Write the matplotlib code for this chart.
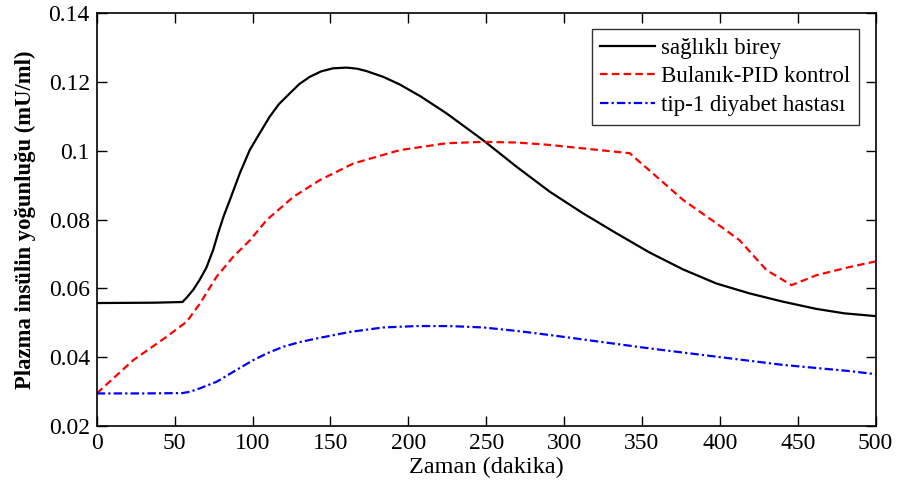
import numpy as np
import matplotlib
matplotlib.use("Agg")
import matplotlib.pyplot as plt

plt.rcParams['font.family'] = ['Liberation Serif', 'DejaVu Serif']

# Healthy subject
t_healthy = [0, 37, 55, 58, 62, 66, 70.4, 74.7, 77.9, 81.5, 85.4, 91.8, 98.2, 104.6,
             111, 117, 123.9, 130, 136.7, 144, 151.7, 160.3, 167, 173.1, 184, 194.5,
             208, 224.5, 248, 269.4, 290.8, 312.2, 333.6, 354.9, 376.3, 397.7, 419.1,
             440.5, 461.9, 480, 500]
y_healthy = [0.0557, 0.0558, 0.0560, 0.0574, 0.0596, 0.0624, 0.0660, 0.0711, 0.0760,
             0.0810, 0.0856, 0.0934, 0.1002, 0.1051, 0.1099, 0.1136, 0.1167, 0.1194,
             0.1215, 0.1231, 0.1240, 0.1242, 0.1239, 0.1232, 0.1215, 0.1193, 0.1158,
             0.1109, 0.1031, 0.0954, 0.0881, 0.0818, 0.0760, 0.0704, 0.0655, 0.0614,
             0.0585, 0.0561, 0.0540, 0.0527, 0.0519]

# Fuzzy-PID control
t_pid = [0, 23.5, 44.9, 57.8, 66.3, 77, 87.7, 98.4, 109, 126.2, 143.3, 164.7, 194.6,
         224.6, 248, 270, 290.8, 312.2, 342.1, 359.3, 376.4, 397.8, 412.6, 429.9,
         446, 462, 483.4, 500]
y_pid = [0.0294, 0.0391, 0.0459, 0.0503, 0.0556, 0.0634, 0.0692, 0.0740, 0.0798,
         0.0866, 0.0915, 0.0963, 0.1002, 0.1022, 0.1026, 0.1024, 0.1017, 0.1007,
         0.0993, 0.0925, 0.0857, 0.0789, 0.0740, 0.0653, 0.0609, 0.0638, 0.0662,
         0.0678]

# Type-1 diabetic patient
t_t1 = [0, 30, 55, 60, 66.3, 77, 87.7, 100.5, 110, 119.8, 130, 141.2, 162.6, 184,
        205.4, 226.6, 248, 269.4, 290.8, 312.2, 354.9, 397.7, 440.5, 483.4, 500]
y_t1 = [0.0294, 0.0294, 0.0295, 0.0299, 0.0309, 0.0328, 0.0357, 0.0391, 0.0412,
        0.0430, 0.0443, 0.0454, 0.0473, 0.0486, 0.0490, 0.0490, 0.0486, 0.0476,
        0.0464, 0.0451, 0.0425, 0.0401, 0.0377, 0.0359, 0.0350]

x_ticks = [0, 50, 100, 150, 200, 250, 300, 350, 400, 450, 500]
y_ticks = [0.02, 0.04, 0.06, 0.08, 0.1, 0.12, 0.14]
y_tick_labels = ['0.02', '0.04', '0.06', '0.08', '0.1', '0.12', '0.14']

fig = plt.figure(figsize=(8.99, 4.86), dpi=100)
ax = fig.add_axes([0.1076, 0.124, 0.8664, 0.8486])

ax.plot(t_healthy, y_healthy, color='black', lw=1.6, label='sağlıklı birey')
ax.plot(t_pid, y_pid, color='#ff0000', lw=1.6, ls=(0, (3.4, 1.9)),
        label='Bulanık-PID kontrol')
ax.plot(t_t1, y_t1, color='#0000ff', lw=1.6, ls=(0, (3.8, 1.4, 1, 1.4)),
        label='tip-1 diyabet hastası')

ax.set_xlim(0, 500)
ax.set_ylim(0.02, 0.14)
ax.set_xticks(x_ticks)
ax.set_yticks(y_ticks)
ax.set_yticklabels(y_tick_labels)
ax.tick_params(direction='in', length=7, width=1, top=True, right=True,
               labelsize=17, pad=5)
for s in ax.spines.values():
    s.set_linewidth(1.2)

ax.set_xlabel('Zaman (dakika)', fontsize=17.5, labelpad=2)
ax.set_ylabel('Plazma insülin yoğunluğu (mU/ml)', fontsize=16.3, fontweight='bold',
              labelpad=9)

leg = ax.legend(loc='upper right', bbox_to_anchor=(0.9786, 0.9619), fontsize=16.5,
                frameon=True, fancybox=False, handlelength=2.4, handletextpad=0.25,
                borderpad=0.38, labelspacing=0.33, borderaxespad=0.0)
leg.get_frame().set_edgecolor('black')
leg.get_frame().set_linewidth(1.0)

fig.savefig('out.png', dpi=100)
